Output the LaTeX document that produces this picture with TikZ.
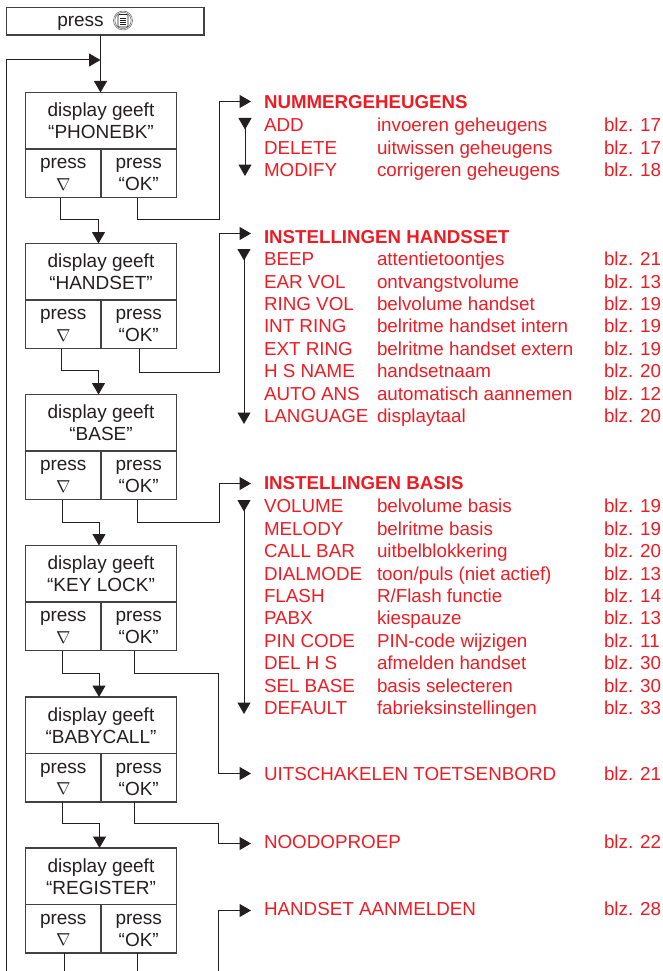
\documentclass[tikz,border=0pt]{standalone}
\usepackage{fontspec}
\setmainfont{Liberation Sans}
\usetikzlibrary{arrows.meta}
\definecolor{ink}{HTML}{231F20}
\definecolor{redtxt}{HTML}{ED1C24}
\tikzset{
  x=1pt,y=-1pt,
  every node/.style={inner sep=0pt,outer sep=0pt},
  boxline/.style={draw=ink!85,line width=1.1pt},
  disp/.style={boxline,anchor=north west,minimum width=151pt,minimum height=56.5pt,align=center,text=ink,font=\fontsize{19}{22}\selectfont},
  keyl/.style={boxline,anchor=north west,minimum width=75.5pt,minimum height=48.5pt,align=center,text=ink,font=\fontsize{19}{22}\selectfont},
  keytxt/.style={anchor=base,text=ink,font=\fontsize{19}{22}\selectfont},
  wire/.style={draw=ink,line width=1pt},
  arroww/.style={wire,-{Triangle[width=13pt,length=11.5pt]}},
  vdown/.style={wire,{Triangle[reversed,width=13pt,length=11.5pt]}-{Triangle[width=13pt,length=11.5pt]}},
  rtxt/.style={anchor=base west,yshift=-0.7pt,text=redtxt,font=\fontsize{18.8}{22}\selectfont},
  rhead/.style={anchor=base west,yshift=-0.7pt,text=redtxt,font=\fontsize{18.7}{22}\selectfont\bfseries},
}
\newcommand{\menubox}[3]{% name, y, label
  \node[disp] (d#1) at (25.5,#2) {display geeft\\“#3”};
  \node[keyl] (l#1) at (d#1.south west) {};
  \node[keyl] (r#1) at (l#1.north east) {};
  \node[keytxt] (lp#1) at ([yshift=-19.5pt]l#1.north) {press};
  \node[keytxt] (ln#1) at ([yshift=-41pt]l#1.north) {$\nabla$};
  \node[keytxt] (rp#1) at ([yshift=-19.5pt]r#1.north) {press};
  \node[keytxt] (rn#1) at ([yshift=-41.5pt]r#1.north) {“OK”};
}
\newcommand{\menurow}[5]{% name, y, a, b, c
  \node[rtxt] (#1a) at (264,#2) {#3};
  \node[rtxt] (#1b) at (377,#2) {#4};
  \node[rtxt] (#1c) at (604,#2) {#5};
}
\begin{document}
\begin{tikzpicture}
\useasboundingbox (0,0) rectangle (662,971);
% top
\node[boxline,anchor=north west,minimum width=197.5pt,minimum height=27.5pt] (top) at (6.5,7.5) {};
\node[anchor=base,text=ink,font=\fontsize{19}{22}\selectfont] (toptxt) at (80.5,27) {press};
\coordinate (ic) at (123,20.5);
\draw[ink!70,line width=0.5pt] (ic) circle (9.5);
\draw[ink!70,line width=0.5pt] (ic) circle (8.2);
\draw[ink,line width=0.6pt,rounded corners=1pt] (118,14.5) rectangle (128,27);
\draw[ink,line width=0.9pt] (120,18)--(126,18) (120,20.3)--(126,20.3) (120,22.6)--(126,22.6) (120,24.9)--(126,24.9);

\menubox{1}{92.5}{PHONEBK}
\menubox{2}{243.5}{HANDSET}
\menubox{3}{394.5}{BASE}
\menubox{4}{545.5}{KEY LOCK}
\menubox{5}{697}{BABYCALL}
\menubox{6}{848}{REGISTER}

% return and entry
\coordinate (retB) at (6.5,971);
\coordinate (join) at (100.5,60);
\coordinate (ent) at (100.5,92.5);
\draw[wire] (top.south -| join) -- (join);
\draw[arroww] (join) -- (ent);
\draw[arroww] (retB) |- (join);

% down connectors
\coordinate (k1) at (60.5,219);
\coordinate (k2) at (61,370);
\coordinate (k3) at (62,522);
\coordinate (k4) at (62,673);
\coordinate (k5) at (62,823);
\draw[arroww] (k1 |- l1.south) -- (k1) -| (98.5,243.5);
\draw[arroww] (k2 |- l2.south) -- (k2) -| (98.5,394.5);
\draw[arroww] (k3 |- l3.south) -- (k3) -| (99,545.5);
\draw[arroww] (k4 |- l4.south) -- (k4) -| (99,697);
\draw[arroww] (k5 |- l5.south) -- (k5) -| (99.5,848);
\coordinate (b1) at (64,971);
\coordinate (b2) at (137,971);
\draw[wire] (b1 |- l6.south) -- (b1);
\draw[wire] (b2 |- r6.south) -- (b2);

% OK connectors
\coordinate (o1) at (137.5,219); \coordinate (t1) at (251,101.5);
\coordinate (o2) at (139,372);   \coordinate (t2) at (251,233.5);
\coordinate (o3) at (137.5,522); \coordinate (t3) at (251,483.5);
\coordinate (o4) at (134.5,673); \coordinate (t4) at (251,773.5);
\coordinate (o5) at (134.5,823); \coordinate (t5) at (251,843.5);
\coordinate (t6) at (251,910.5);  \coordinate (b3) at (218.5,971);
\draw[arroww] (o1 |- r1.south) -- (o1) -- (219.5,219) |- (t1);
\draw[arroww] (o2 |- r2.south) -- (o2) -- (219.5,372) |- (t2);
\draw[arroww] (o3 |- r3.south) -- (o3) -- (219,522) |- (t3);
\draw[arroww] (o4 |- r4.south) -- (o4) -- (218.5,673) |- (t4);
\draw[arroww] (o5 |- r5.south) -- (o5) -- (218.5,823) |- (t5);
\draw[arroww] (b3) |- (t6);

% vertical run arrows
\coordinate (v1a) at (245,118); \coordinate (v1b) at (245,176);
\coordinate (v2a) at (244,249); \coordinate (v2b) at (244,424);
\coordinate (v3a) at (244,500); \coordinate (v3b) at (244,714);
\draw[vdown] (v1a) -- (v1b);
\draw[vdown] (v2a) -- (v2b);
\draw[vdown] (v3a) -- (v3b);

% texts
\node[rhead] (h1) at (264,108) {NUMMERGEHEUGENS};
\menurow{a}{131}{ADD}{invoeren geheugens}{blz. 17}
\menurow{b}{153.5}{DELETE}{uitwissen geheugens}{blz. 17}
\menurow{c}{175.5}{MODIFY}{corrigeren geheugens}{blz. 18}
\node[rhead] (h2) at (264,243) {INSTELLINGEN HANDSSET};
\menurow{d}{265}{BEEP}{attentietoontjes}{blz. 21}
\menurow{e}{287.5}{EAR VOL}{ontvangstvolume}{blz. 13}
\menurow{f}{310}{RING VOL}{belvolume handset}{blz. 19}
\menurow{g}{332}{INT RING}{belritme handset intern}{blz. 19}
\menurow{h}{355}{EXT RING}{belritme handset extern}{blz. 19}
\menurow{i}{377}{H S NAME}{handsetnaam}{blz. 20}
\menurow{j}{400}{AUTO ANS}{automatisch aannemen}{blz. 12}
\menurow{k}{422}{LANGUAGE}{displaytaal}{blz. 20}
\node[rhead] (h3) at (264,489) {INSTELLINGEN BASIS};
\menurow{m}{512}{VOLUME}{belvolume basis}{blz. 19}
\menurow{n}{535}{MELODY}{belritme basis}{blz. 19}
\menurow{o}{557}{CALL BAR}{uitbelblokkering}{blz. 20}
\menurow{p}{579.5}{DIALMODE}{toon/puls (niet actief)}{blz. 13}
\menurow{q}{602}{FLASH}{R/Flash functie}{blz. 14}
\menurow{r}{624}{PABX}{kiespauze}{blz. 13}
\menurow{s}{647}{PIN CODE}{PIN-code wijzigen}{blz. 11}
\menurow{t}{669}{DEL H S}{afmelden handset}{blz. 30}
\menurow{u}{692}{SEL BASE}{basis selecteren}{blz. 30}
\menurow{v}{714}{DEFAULT}{fabrieksinstellingen}{blz. 33}
\node[rtxt] (w1) at (264,780) {UITSCHAKELEN TOETSENBORD};
\node[rtxt] (w2) at (604,780) {blz. 21};
\node[rtxt] (x1) at (264,848) {NOODOPROEP};
\node[rtxt] (x2) at (604,848) {blz. 22};
\node[rtxt] (y1) at (264,915) {HANDSET AANMELDEN};
\node[rtxt] (y2) at (604,915) {blz. 28};
\end{tikzpicture}
\end{document}
